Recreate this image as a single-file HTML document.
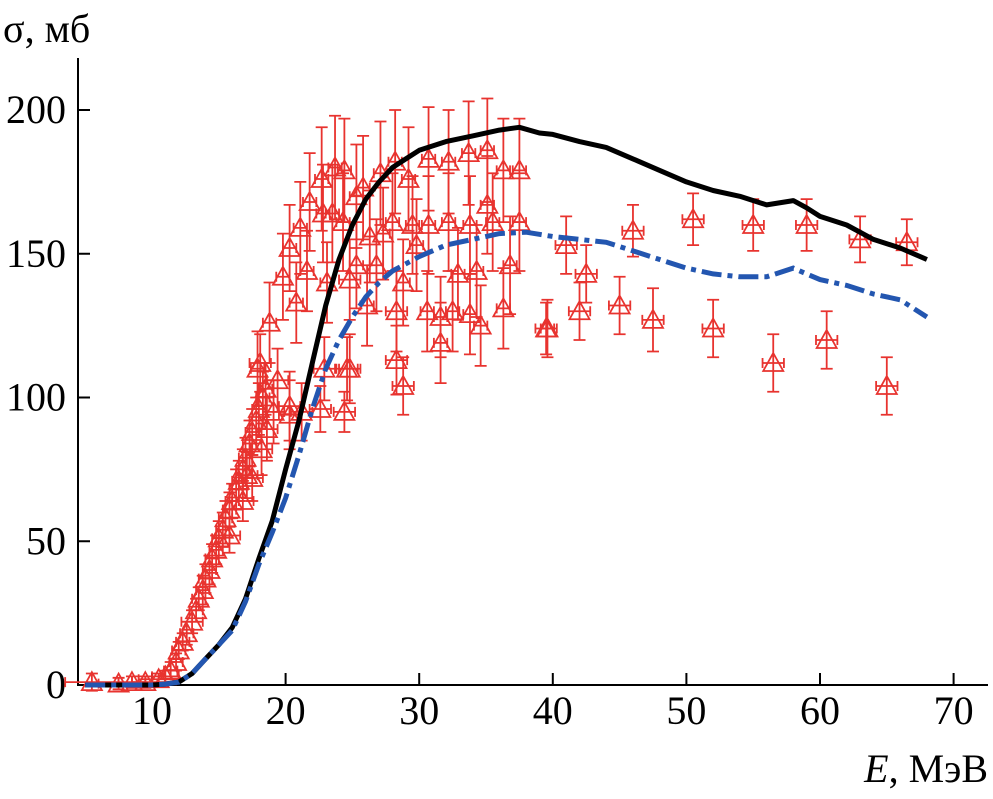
<!DOCTYPE html>
<html><head><meta charset="utf-8"><style>
body{margin:0;background:#fff}
svg text{font-family:"Liberation Serif",serif;font-size:40px;fill:#000}
</style></head><body>
<svg id="c" width="993" height="794">
<g id="axes"></g>
<g id="pts"></g>
<path id="black" fill="none" stroke="#000" stroke-width="5" stroke-linejoin="round"/>
<path id="blue" fill="none" stroke="#2356b0" stroke-width="5" stroke-dasharray="20,6,5,6"/>
<text x="3" y="42">σ, мб</text>
<text x="988" y="782" text-anchor="end"><tspan font-style="italic">E</tspan>, МэВ</text>
</svg>
<script>
const xTicks=[10,20,30,40,50,60,70];
const yTicks=[0,50,100,150,200];
const blackE=[5,10,11,12,13,14,15,16,17,18,19,20,21,22,23,24,25,26,27,28,29,30,32,34,36,37.5,39,40,42,44,46,48,50,52,54,56,58,59,60,62,64,66,68];
const blackS=[0,0,0.3,1,4,9,14,20,30,44,57,75,92,112,132,148,160,169,175,180,183,186,189,191,193,194,192,191.5,189,187,183,179,175,172,170,167,168.5,166,163,160,155,152,148];
const blueE=[5,10,11,12,13,14,15,16,17,18,19,20,21,22,23,24,25,26,27,28,30,32,34,36,38,40,42,44,46,48,50,52,54,56,58,59,60,62,64,66,68];
const blueS=[0,0,0.3,1,4,9,14,19,29,42,53,65,80,96,110,120,128,135,140,144,149,153,155,157,157.5,156,155,154,151,148,145,143,142,142,145,143,141,139,136,134,128];
const ptE=[5.5,7.5,8.5,9.5,10.5,11,11.4,11.8,12,12.3,12.6,13,13.3,13.5,13.8,14,14.3,14.5,14.8,15,15.3,15.5,15.8,16,16.3,16.5,16.8,17,17.3,17.5,17.8,18,18.3,18.5,16.8,17.5,18.2,15.8,17.1,
22.7,23.7,24.4,21.8,21.1,20.3,19.8,18.8,17.9,22.8,23.5,24.3,25.3,25.8,27.1,28.2,29.2,30.7,32.2,33.7,35.1,36.3,37.5,35.1,35.5,37.5,33.8,32.2,30.7,29.5,28,27.3,26.3,29.8,26.8,25.3,36.8,34.3,32.9,28.8,23.1,21.6,20.8,24.8,26.1,28.3,30.6,31.6,32.5,33.8,34.6,36.3,39.6,31.6,28.3,28.8,24.8,24.6,22.9,21.2,20.3,19.1,18.6,20.3,19.4,18.1,24.4,22.6,
39.5,41,42.5,45,47.5,52,56.5,60.5,65,42,46,50.5,55,59,63,66.5];
const ptS=[1,0.5,1,1,2,3,5,8,12,15,18,22,26,30,33,37,40,44,47,51,54,58,61,64,68,71,75,79,84,88,92,96,100,103,64,72,82,52,73,
176,180,179,168,159,152,142,126,110,164,164,161,170,173,178,182,176,183,182,185,186,179,179,167,161,161,160,161,160,160,161,157,156,153,146,146,146,144,143,140,140,144,133,141,132,130,130,128,130,129,125,131,124,119,113,104,110,110,110,95,97,95,89,94,106,112,95,96,
124,153,143,132,127,124,112,120,104,130,158,162,160,160,155,154];
const ptDY=[3,2,2,2,2,2,3,3,3,3,4,4,4,4,5,5,5,5,5,6,6,6,6,6,7,7,7,7,8,8,8,9,9,9,7,8,9,6,8,
18,18,18,17,16,15,15,14,13,17,17,17,18,18,18,18,18,18,18,18,18,18,18,17,17,17,17,17,17,17,17,16,16,16,16,15,17,16,16,15,14,14,14,14,14,14,14,14,14,14,14,14,10,14,12,10,12,11,11,10,12,11,11,12,11,10,7,8,
9,10,10,10,11,10,10,10,10,10,9,9,9,9,8,8];
const ptDX=[2,1.5,1,1,1.5,1,0.5,0.5,0.5,0.5,0.5,0.8,0.5,0.5,0.5,0.5,0.5,0.5,0.5,0.5,0.5,0.5,0.5,0.5,0.5,0.5,0.5,0.5,0.5,0.5,0.5,0.5,0.5,0.5,0.8,0.8,0.8,0.8,0.8,
0.5,0.5,0.5,0.5,0.5,0.5,0.5,0.5,0.5,0.5,0.5,0.5,0.5,0.5,0.5,0.5,0.5,0.5,0.5,0.5,0.5,0.5,0.5,0.5,0.5,0.5,0.5,0.5,0.5,0.5,0.5,0.5,0.5,0.5,0.5,0.5,0.5,0.5,0.5,0.5,0.5,0.5,0.5,0.8,0.5,0.8,0.5,0.5,0.5,0.5,0.5,0.5,0.5,0.5,0.8,0.8,0.8,0.8,0.8,0.8,0.8,0.8,0.8,0.8,0.8,0.8,0.8,0.8,
0.8,0.8,0.8,0.8,0.8,0.8,0.8,0.8,0.8,0.8,0.8,0.8,0.8,0.8,0.8,0.8];
const X=e=>18.4+e*13.36, Y=s=>685-s*2.875;
const NS='http://www.w3.org/2000/svg';
function mk(p,t,a){const el=document.createElementNS(NS,t);for(const k in a)el.setAttribute(k,a[k]);p.appendChild(el);return el;}
const ax=document.getElementById('axes');
let a=mk(ax,'path',{d:'M78,58V685H988',fill:'none',stroke:'#000','stroke-width':2});


xTicks.forEach(v=>{
 const t=mk(ax,'line',{x1:X(v),x2:X(v),y1:685,y2:673,stroke:'#000','stroke-width':2});
 
 
 const l=mk(ax,'text',{x:X(v),y:724,'text-anchor':'middle'});l.textContent=v;
 
 
});
yTicks.forEach(v=>{
 const t=mk(ax,'line',{x1:78,x2:90,y1:Y(v),y2:Y(v),stroke:'#000','stroke-width':2});
 
 
 const l=mk(ax,'text',{x:66,y:Y(v)+13,'text-anchor':'end'});l.textContent=v;
 
 
});
const pg=document.getElementById('pts');
for(let i=0;i<ptE.length;i++){
 const x=X(ptE[i]),y=Y(ptS[i]),dy=ptDY[i]*2.875,dx=ptDX[i]*13.36;
 const g=mk(pg,'path',{d:`M${x},${y-dy}V${y+dy}M${x-6},${y-dy}H${x+6}M${x-6},${y+dy}H${x+6}M${x-dx},${y}H${x+dx}M${x-dx},${y-5}V${y+5}M${x+dx},${y-5}V${y+5}M${x},${y-10}L${x+10},${y+8}H${x-10}Z`,fill:'none',stroke:'#e8332f','stroke-width':1.8});
 
 
}
const line=(E,S)=>E.map((e,i)=>(i?'L':'M')+X(e).toFixed(1)+','+Y(S[i]).toFixed(1)).join('');
document.getElementById('black').setAttribute('d',line(blackE,blackS));
document.getElementById('blue').setAttribute('d',line(blueE,blueS));
</script>
</body></html>
